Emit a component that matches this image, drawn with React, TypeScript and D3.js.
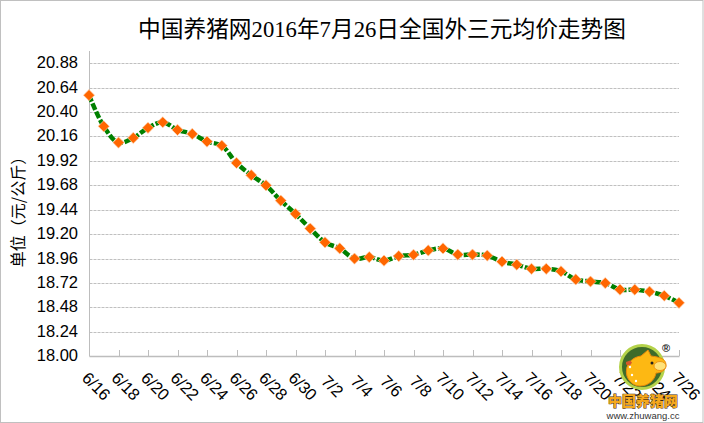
import React from "react";
import * as d3 from "d3";

const dates = ["6/16","6/17","6/18","6/19","6/20","6/21","6/22","6/23","6/24","6/25","6/26","6/27","6/28","6/29","6/30","7/1","7/2","7/3","7/4","7/5","7/6","7/7","7/8","7/9","7/10","7/11","7/12","7/13","7/14","7/15","7/16","7/17","7/18","7/19","7/20","7/21","7/22","7/23","7/24","7/25","7/26"];
const prices = [20.566,20.26,20.10,20.146,20.245,20.30,20.225,20.185,20.11,20.07,19.90,19.78,19.68,19.53,19.40,19.255,19.12,19.06,18.96,18.975,18.94,18.985,18.998,19.04,19.06,19.0,19.0,18.99,18.93,18.90,18.86,18.86,18.835,18.755,18.735,18.72,18.655,18.655,18.635,18.595,18.525];
const yTicks = [18,18.24,18.48,18.72,18.96,19.2,19.44,19.68,19.92,20.16,20.4,20.64,20.88];
const titleText = "中国养猪网2016年7月26日全国外三元均价走势图";
const yTitle = "单位（元/公斤）";

const W = 704, H = 423;
const x = d3.scalePoint<string>().domain(dates).range([89, 679]);
const y = d3.scaleLinear().domain([18, 21]).range([356.3, 51]);
const line = d3.line<number>()
  .x((_, i) => x(dates[i]) as number)
  .y((d) => y(d))
  .curve(d3.curveCatmullRom.alpha(0.5));
const diamond = d3.symbol().type(d3.symbolDiamond2).size(80)();
const AXIS = "#bdbdbd";
const SANS = "'Liberation Sans', Arial, sans-serif";

function Logo() {
  return (
    <g>
      <circle cx={642} cy={367} r={21.5} fill="#3e6b2a" stroke="#b4d24a" strokeWidth={3} />
      <path d="M627 376 C624 365 632 357 641 356 L648 350 L651 356 C658 357 666 358 666 365 C666 371 660 373 656 373 C655 380 648 386 640 386 C634 386 629 382 627 376 Z" fill="#fdb813" stroke="#e8890c" strokeWidth={1} />
      <ellipse cx={660} cy={366} rx={6} ry={4.5} fill="#ffe27a" stroke="#e8890c" strokeWidth={0.8} />
      <circle cx={652} cy={363} r={1.5} fill="#222" />
      <circle cx={632} cy={375} r={1.2} fill="#fff" />
      <circle cx={636} cy={381} r={1.2} fill="#fff" />
      <circle cx={630} cy={367} r={1.2} fill="#fff" />
      <path d="M626 362 l4 -1.5 l2 2 l-2 3 l-4 -1 Z" fill="#d8572a" />
      <text x={666} y={352} fontFamily={SANS} fontSize={11} fontWeight={700} fill="#222" textAnchor="middle">®</text>
      <text x={643} y={405.5} fontFamily="'Noto Sans CJK SC'" fontSize={14} fontWeight={900} fill="#f5a81c" stroke="#3a2a10" strokeWidth={0.9} paintOrder="stroke" textAnchor="middle">中国养猪网</text>
      <text x={643} y={418.5} fontFamily={SANS} fontSize={9.5} fill="#333" textAnchor="middle">www.zhuwang.cc</text>
    </g>
  );
}

export default function App() {
  return (
    <svg width={W} height={H} viewBox={`0 0 ${W} ${H}`} style={{ position: "absolute", left: 0, top: 0, display: "block", background: "#fff" }}>
      <rect x={0.5} y={0.5} width={702.5} height={422} fill="#fff" stroke="#c0c0c0" strokeWidth={1} />
      <text x={382} y={37} textAnchor="middle" fontFamily="'Liberation Serif', 'Noto Sans CJK SC', serif" fontSize={22.7} fill="#000">{titleText}</text>
      {yTicks.filter((t) => t > 18).map((t) => (
        <line key={t} x1={89.5} x2={679} y1={Math.round(y(t)) + 0.5} y2={Math.round(y(t)) + 0.5} stroke="#c0c0c0" strokeWidth={1} strokeDasharray="3 1" />
      ))}
      <line x1={89.5} x2={89.5} y1={51} y2={356.5} stroke={AXIS} strokeWidth={1} />
      <line x1={89.5} x2={679.5} y1={356.5} y2={356.5} stroke={AXIS} strokeWidth={1.5} />
      {dates.map((d, i) => i % 2 === 0 ? (
        <g key={d}>
          <line x1={Math.round(x(d) as number) + 0.5} x2={Math.round(x(d) as number) + 0.5} y1={350} y2={356} stroke={AXIS} strokeWidth={1} />
          <text transform={`translate(${(x(d) as number) + 7.5},386) rotate(45)`} textAnchor="middle" dominantBaseline="central" fontFamily={SANS} fontSize={16.5} fill="#000">{d}</text>
        </g>
      ) : null)}
      {yTicks.map((t) => (
        <text key={t} x={78} y={y(t) - 1} textAnchor="end" dominantBaseline="central" fontFamily={SANS} fontSize={16.5} fill="#000">{t.toFixed(2)}</text>
      ))}
      <text transform="translate(17,208) rotate(-90)" textAnchor="middle" dominantBaseline="central" fontFamily="'Noto Sans CJK SC'" fontSize={16} fill="#000">{yTitle}</text>
      <path d={line(prices) as string} fill="none" stroke="#008000" strokeWidth={4.5} strokeDasharray="7 2" />
      {prices.map((p, i) => (
        <path key={dates[i]} d={diamond as string} transform={`translate(${x(dates[i])},${y(p)})`} fill="#ff6600" stroke="#ffd2b0" strokeWidth={0.7} />
      ))}
      <Logo />
    </svg>
  );
}
